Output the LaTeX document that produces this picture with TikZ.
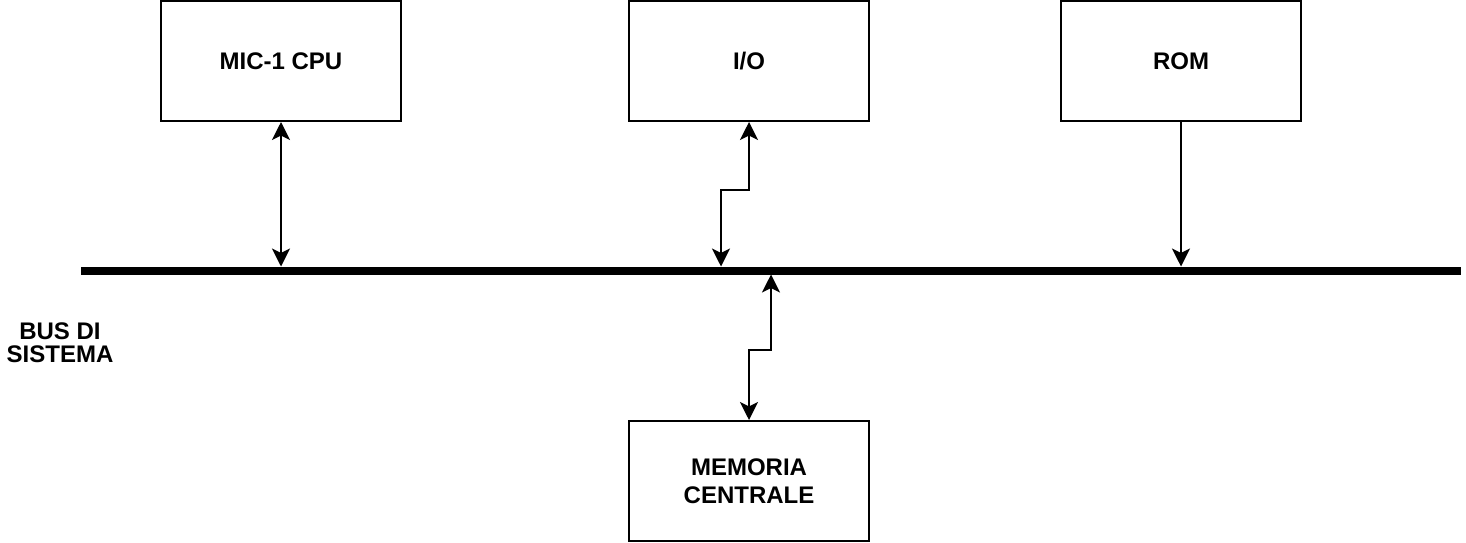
\documentclass[tikz,border=0pt]{standalone}
\usepackage{fontspec}
\setmainfont{Liberation Sans}
\usetikzlibrary{arrows.meta}
\begin{document}
\begin{tikzpicture}[x=0.5pt,y=-0.5pt,
  unit/.style={draw=black, line width=1pt, fill=white, minimum width=120pt, minimum height=60pt,
    inner sep=0pt, align=center, font=\bfseries\fontsize{12}{14.2}\selectfont},
  conn/.style={line width=1pt, draw=black, {Stealth[length=9pt,width=9pt,inset=2.2pt]}-{Stealth[length=9pt,width=9pt,inset=2.2pt]}},
  oneway/.style={line width=1pt, draw=black, -{Stealth[length=9pt,width=9pt,inset=2.2pt]}},
  busline/.style={line width=4pt, draw=black}]
\useasboundingbox (0,0) rectangle (1466,542);
\node[unit] (cpu) at (281,61) {MIC-1 CPU};
\node[unit] (io) at (749,61) {I/O};
\node[unit] (rom) at (1181,61) {ROM};
\node[unit] (mem) at (749,481) {MEMORIA\\CENTRALE};
\coordinate (busL) at (81,270.5);
\coordinate (busR) at (1461,270.5);
\draw[busline] (busL) -- (busR);
\node[align=center, font=\bfseries\fontsize{12}{11.7}\selectfont] (buslabel) at (60,343) {BUS DI\\SISTEMA};
\coordinate (cpuBus) at (281,266.5);
\coordinate (ioBus) at (721,266.5);
\coordinate (romBus) at (1181,266.5);
\coordinate (memBus) at (771,274.5);
\draw[conn] (cpu.south) -- (cpuBus);
\draw[conn] (io.south) -- (749,190) -- (721,190) -- (ioBus);
\draw[oneway] (rom.south) -- (romBus);
\draw[conn] (memBus) -- (771,350) -- (749,350) -- (mem.north);
\end{tikzpicture}
\end{document}
